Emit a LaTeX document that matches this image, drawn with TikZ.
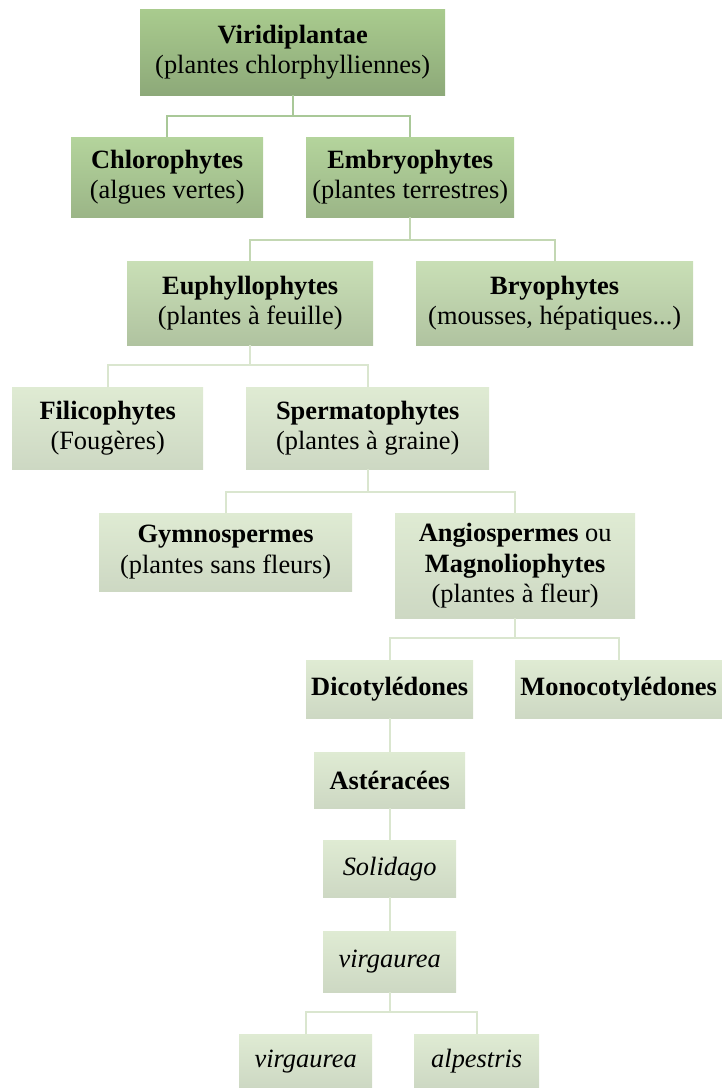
\documentclass[tikz,border=0pt]{standalone}
\usepackage{fontspec}
\setmainfont{Liberation Serif}
\usetikzlibrary{calc}
\definecolor{gAt}{HTML}{A9CB8E}\definecolor{gAb}{HTML}{8DA979}
\definecolor{gBt}{HTML}{B4D49C}\definecolor{gBb}{HTML}{9BB587}
\definecolor{gCt}{HTML}{C9DFB6}\definecolor{gCb}{HTML}{B0C3A0}
\definecolor{gDt}{HTML}{DFEBD3}\definecolor{gDb}{HTML}{CDD8C3}
\definecolor{lA}{HTML}{A9C898}\definecolor{lB}{HTML}{C3D7B3}\definecolor{lC}{HTML}{DAE6CF}
\tikzset{
  box/.style={rectangle, inner sep=0pt, align=center, anchor=north west,
    font=\fontsize{26.4}{30.4}\selectfont, text=black},
  lvA/.style={box, top color=gAt, bottom color=gAb},
  lvB/.style={box, top color=gBt, bottom color=gBb},
  lvC/.style={box, top color=gCt, bottom color=gCb},
  lvD/.style={box, top color=gDt, bottom color=gDb},
  conn/.style={line width=2pt},
}
\newcommand{\bx}[7]{% style, name, x0, y0, x1, y1, text
  \node[#1, minimum width=#5pt-#3pt, minimum height=#6pt-#4pt] (#2) at (#3,#4) {#7};}
\begin{document}
\begin{tikzpicture}[x=1pt,y=-1pt]
\useasboundingbox (0,0) rectangle (722,1088);
\bx{lvA}{viri}{140}{9}{445}{95}{\textbf{Viridiplantae}\\(plantes chlorphylliennes)}
\bx{lvB}{chloro}{71}{137}{263}{217}{\textbf{Chlorophytes}\\(algues vertes)}
\bx{lvB}{embryo}{306}{137}{514}{217}{\textbf{Embryophytes}\\(plantes terrestres)}
\bx{lvC}{euph}{127}{261}{373}{345}{\textbf{Euphyllophytes}\\(plantes à feuille)}
\bx{lvC}{bryo}{416}{261}{693}{345}{\textbf{Bryophytes}\\(mousses, hépatiques...)}
\bx{lvD}{fili}{12}{387}{203}{469}{\textbf{Filicophytes}\\(Fougères)}
\bx{lvD}{sperm}{246}{387}{489}{469}{\textbf{Spermatophytes}\\(plantes à graine)}
\bx{lvD}{gymno}{99}{513}{352}{591}{\textbf{Gymnospermes}\\(plantes sans fleurs)}
\bx{lvD}{angio}{395}{513}{635}{618}{\textbf{Angiospermes} ou\\\textbf{Magnoliophytes}\\(plantes à fleur)}
\bx{lvD}{dicot}{306}{660}{473}{718}{\textbf{Dicotylédones}}
\bx{lvD}{mono}{515}{660}{722}{718}{\textbf{Monocotylédones}}
\bx{lvD}{aster}{314}{752}{465}{808}{\textbf{Astéracées}}
\bx{lvD}{soli}{323}{840}{456}{897}{\textit{Solidago}}
\bx{lvD}{virg}{323}{931}{456}{992}{\textit{virgaurea}}
\bx{lvD}{virgb}{239}{1034}{372}{1088}{\textit{virgaurea}}
\bx{lvD}{alp}{414}{1034}{539}{1088}{\textit{alpestris}}
% connectors
\draw[conn, lA] (viri.south) -- ++(0,21) coordinate (j0);
\draw[conn, lA] (chloro.north) |- (j0) -| (embryo.north);
\draw[conn, lB] (embryo.south) -- ++(0,23) coordinate (j1);
\draw[conn, lB] (euph.north) |- (j1) -| (bryo.north);
\draw[conn, lC] (euph.south) -- ++(0,20) coordinate (j2);
\draw[conn, lC] (fili.north) |- (j2) -| (sperm.north);
\draw[conn, lC] (sperm.south) -- ++(0,23) coordinate (j3);
\draw[conn, lC] (gymno.north) |- (j3) -| (angio.north);
\draw[conn, lC] (angio.south) -- ++(0,20) coordinate (j4);
\draw[conn, lC] (dicot.north) |- (j4) -| (mono.north);
\draw[conn, lC] (dicot.south) -- (aster.north);
\draw[conn, lC] (aster.south) -- (soli.north);
\draw[conn, lC] (soli.south) -- (virg.north);
\draw[conn, lC] (virg.south) -- ++(0,20) coordinate (j5);
\draw[conn, lC] (virgb.north) |- (j5) -| (alp.north);
\end{tikzpicture}
\end{document}
